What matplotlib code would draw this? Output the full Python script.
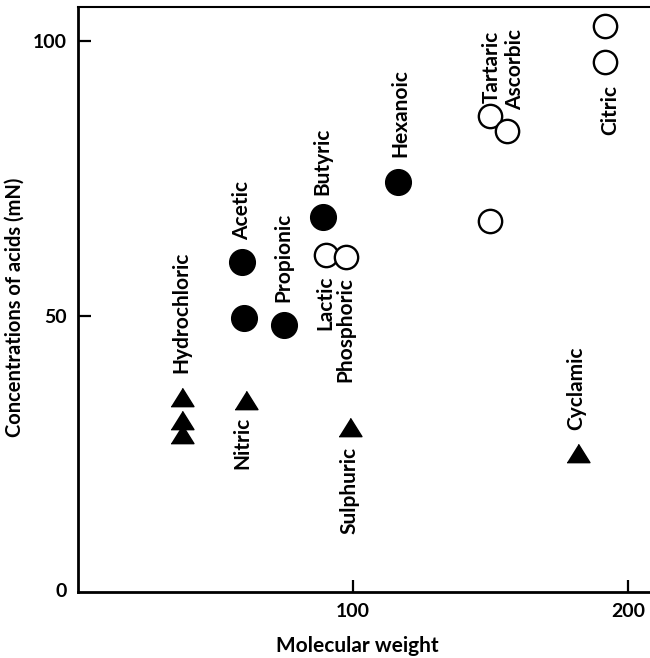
import matplotlib
matplotlib.use("Agg")
import matplotlib.pyplot as plt

plt.rcParams['font.family'] = ['Lato', 'DejaVu Sans']
plt.rcParams['font.weight'] = 'bold'
plt.rcParams['axes.labelweight'] = 'bold'

# strong acids (filled triangles)
strong_mw = [37.9, 37.9, 37.9, 61.2, 98.8, 181.7]
strong_conc = [35.1, 30.9, 28.5, 34.7, 29.7, 25.0]

# weak organic acids (filled circles)
organic_mw = [59.7, 60.3, 74.8, 89.2, 116.4]
organic_conc = [59.8, 49.6, 48.2, 68.0, 74.4]

# other acids (open circles)
other_mw = [90.3, 97.5, 149.7, 156.1, 149.9, 191.7, 191.7]
other_conc = [61.1, 60.6, 86.4, 83.6, 67.3, 102.8, 96.2]

# label, which group, index of point, offset (px), above/below
labels = [
    ("Hydrochloric", "s", 0, -0.5, 24.5, "up"),
    ("Nitric", "s", 3, -4.5, 17.5, "down"),
    ("Sulphuric", "s", 4, 0, 20, "down"),
    ("Cyclamic", "s", 5, -2, 22.5, "up"),
    ("Acetic", "o", 0, -0.5, 21.5, "up"),
    ("Propionic", "o", 2, -0.5, 23.5, "up"),
    ("Butyric", "o", 3, -1.5, 21.5, "up"),
    ("Hexanoic", "o", 4, 2, 24.5, "up"),
    ("Lactic", "w", 0, -1.5, 20.5, "down"),
    ("Phosphoric", "w", 1, -0.5, 19.5, "down"),
    ("Tartaric", "w", 2, 1.5, 12.5, "up"),
    ("Ascorbic", "w", 3, 8, 21, "up"),
    ("Citric", "w", 6, 4.5, 23, "down"),
]

fig = plt.figure(figsize=(6.5, 6.58), dpi=100)
ax = fig.add_axes([0.12, 0.1003, 0.88, 0.889])

tri = [(-1, -0.8), (1, -0.8), (0, 0.8)]
ax.plot(strong_mw, strong_conc, ls='none', marker=tri, ms=16.5, color='black')
ax.plot(organic_mw, organic_conc, ls='none', marker='o', ms=18.5, color='black')
ax.plot(other_mw, other_conc, ls='none', marker='o', ms=16.8, mfc='white',
        mec='black', mew=1.7)

groups = {"s": (strong_mw, strong_conc), "o": (organic_mw, organic_conc),
          "w": (other_mw, other_conc)}
pt = 72 / 100.0
for text, g, i, dx, dy, side in labels:
    xs, ys = groups[g]
    if side == "up":
        ax.annotate(text, (xs[i], ys[i]), xytext=(dx * pt, dy * pt),
                    textcoords='offset points', rotation=90,
                    ha='center', va='bottom', fontsize=15)
    else:
        ax.annotate(text, (xs[i], ys[i]), xytext=(dx * pt, -dy * pt),
                    textcoords='offset points', rotation=90,
                    ha='center', va='top', fontsize=15)

ax.set_xlim(0, 207.9)
ax.set_ylim(-0.36, 106.2)
ax.set_xticks([100, 200])
ax.set_yticks([0, 50, 100])
ax.tick_params(direction='in', length=9, width=1.6, labelsize=14, pad=8)
ax.yaxis.get_major_ticks()[0].tick1line.set_visible(False)

ax.spines['right'].set_visible(False)
ax.spines['left'].set_linewidth(2.0)
ax.spines['bottom'].set_linewidth(2.0)
ax.spines['top'].set_linewidth(1.5)

ax.set_xlabel("Molecular weight", fontsize=15)
ax.set_ylabel("Concentrations of acids (mN)", fontsize=14.5)
ax.xaxis.set_label_coords(0.488, -0.075)
ax.yaxis.set_label_coords(-0.093, 0.487)

fig.savefig("out.png", dpi=100)
